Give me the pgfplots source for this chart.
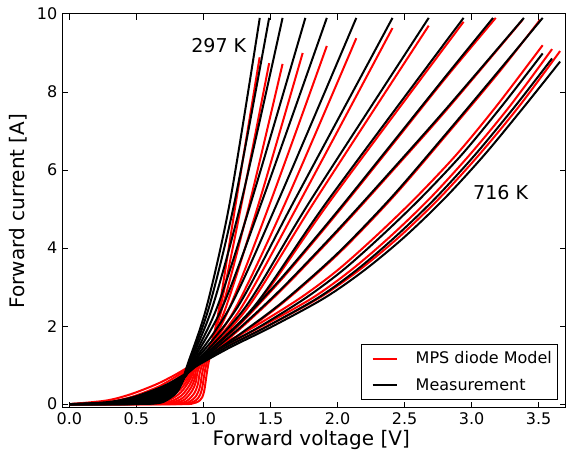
\documentclass[border=0pt]{standalone}
\usepackage{fontspec}
\setmainfont{DejaVu Sans}
\usepackage{pgfplots}
\pgfplotsset{compat=1.18}
\begin{document}
\begin{tikzpicture}
\path[use as bounding box] (0pt,0pt) rectangle (424.5pt,339pt);
\begin{axis}[
  at={(46.5pt,33pt)}, anchor=south west,
  scale only axis, width=377.6pt, height=295.5pt,
  xmin=-0.055, xmax=3.70, ymin=-0.1, ymax=10,
  xtick={0,0.5,...,3.5}, ytick={0,2,...,10},
  tick align=inside, major tick length=4.3pt,
  axis line style={line width=0.75pt},
  every tick/.style={black, line width=0.75pt},
  /pgf/number format/assume math mode=true,
  xticklabel style={/pgf/number format/.cd, fixed, fixed zerofill, precision=1},
  tick label style={font=\fontsize{12}{14}\selectfont},
  xlabel={Forward voltage [V]}, ylabel={Forward current [A]},
  label style={font=\fontsize{15}{18}\selectfont},
  xlabel style={at={(axis description cs:0.495,-0.0964)}, anchor=base},
  ylabel style={at={(axis description cs:-0.0735,0.5)}, anchor=base, rotate=0},
  legend style={at={(axis description cs:0.986,0.02)}, anchor=south east,
    font=\fontsize{12}{14}\selectfont, draw=black, line width=0.75pt,
    nodes={inner sep=0pt}, row sep=9.5pt, column sep=13.5pt,
    inner xsep=4.5pt, inner ysep=5.5pt},
  legend cell align=left,
  legend image code/.code={\path (-3.75pt,0pt); \draw[#1, line width=1.5pt] (0pt,0pt) -- (18pt,0pt);},
  blk/.style={black, line width=1.5pt, smooth, tension=0.5, forget plot},
  rd/.style={red, line width=1.5pt, smooth, tension=0.5, forget plot},
]
% ---------- model (red) ----------
\addplot[rd] coordinates {(0,0) (0.518,0) (0.725,0) (0.828,0.0002) (0.911,0.0078) (0.973,0.095) (1.004,0.314) (1.035,1) (1.119,2.5) (1.245,5.23) (1.419,8.89)};
\addplot[rd] coordinates {(0,0) (0.51,0) (0.714,0) (0.816,0.001) (0.898,0.019) (0.959,0.146) (0.989,0.388) (1.02,1) (1.128,2.5) (1.29,5.23) (1.49,8.74)};
\addplot[rd] coordinates {(0,0) (0.503,0) (0.704,0.0001) (0.804,0.0034) (0.884,0.038) (0.945,0.206) (0.975,0.46) (1.005,1) (1.143,2.5) (1.35,5.23) (1.59,8.72)};
\addplot[rd] coordinates {(0,0) (0.495,0) (0.693,0.0006) (0.792,0.0097) (0.871,0.070) (0.931,0.276) (0.960,0.531) (0.99,1) (1.169,2.5) (1.42,5.23) (1.74,9.0)};
\addplot[rd] coordinates {(0,0) (0.488,0) (0.683,0.0023) (0.78,0.022) (0.858,0.113) (0.917,0.348) (0.946,0.595) (0.975,1) (1.198,2.5) (1.505,5.23) (1.92,9.18)};
\addplot[rd] coordinates {(0,0) (0.29,0) (0.483,0.0001) (0.676,0.0069) (0.772,0.045) (0.849,0.168) (0.907,0.422) (0.936,0.654) (0.965,1) (1.245,2.5) (1.62,5.23) (2.14,9.38)};
\addplot[rd] coordinates {(0,0) (0.287,0) (0.478,0.0004) (0.669,0.017) (0.764,0.078) (0.84,0.232) (0.898,0.493) (0.926,0.706) (0.955,1) (1.287,2.5) (1.725,5.23) (2.41,9.64)};
\addplot[rd] coordinates {(0,0) (0.284,0) (0.473,0.0015) (0.662,0.035) (0.756,0.124) (0.832,0.303) (0.888,0.561) (0.917,0.752) (0.945,1) (1.336,2.5) (1.835,5.23) (2.68,9.7)};
\addplot[rd] coordinates {(0,0) (0.282,0.0001) (0.47,0.005) (0.658,0.065) (0.752,0.182) (0.827,0.376) (0.884,0.623) (0.912,0.792) (0.94,1) (1.387,2.5) (1.95,5.23) (2.94,9.8)};
\addplot[rd] coordinates {(0,0) (0.281,0.0005) (0.468,0.013) (0.655,0.107) (0.748,0.248) (0.823,0.449) (0.879,0.679) (0.907,0.826) (0.935,1) (1.11,1.52) (1.31,2.18) (1.61,3.305) (2.01,4.945) (2.41,6.655) (2.81,8.375) (3.18,9.9)};
\addplot[rd] coordinates {(0,0) (0.279,0.0021) (0.465,0.029) (0.651,0.161) (0.744,0.319) (0.818,0.52) (0.874,0.728) (0.902,0.856) (0.93,1) (1.11,1.454) (1.31,2.044) (1.61,3.019) (2.01,4.459) (2.41,5.979) (2.81,7.53) (3.38,9.85)};
\addplot[rd] coordinates {(0,0) (0.278,0.0065) (0.463,0.055) (0.648,0.224) (0.74,0.393) (0.814,0.585) (0.87,0.772) (0.897,0.88) (0.925,1) (1.11,1.384) (1.31,1.864) (1.61,2.644) (2.01,3.864) (2.41,5.292) (2.81,6.892) (3.21,8.532) (3.51,9.85)};
\addplot[rd] coordinates {(0,0) (0.276,0.024) (0.46,0.117) (0.644,0.331) (0.736,0.501) (0.81,0.673) (0.865,0.825) (0.892,0.91) (0.92,1) (1.10,1.456) (1.37,1.966) (1.72,2.715) (2.00,3.432) (2.28,4.286) (2.58,5.278) (2.89,6.408) (3.19,7.66) (3.53,9.2)};
\addplot[rd] coordinates {(0,0) (0.275,0.049) (0.458,0.177) (0.641,0.41) (0.732,0.572) (0.805,0.727) (0.86,0.857) (0.888,0.927) (0.915,1) (1.13,1.456) (1.42,1.966) (1.81,2.715) (2.10,3.432) (2.39,4.286) (2.69,5.278) (2.99,6.408) (3.29,7.66) (3.60,9.10)};
\addplot[rd] coordinates {(0,0) (0.273,0.09) (0.455,0.25) (0.637,0.49) (0.728,0.64) (0.801,0.774) (0.855,0.884) (0.883,0.941) (0.91,1) (1.16,1.456) (1.46,1.966) (1.86,2.715) (2.16,3.432) (2.46,4.286) (2.76,5.278) (3.06,6.408) (3.36,7.66) (3.66,9.05)};
% ---------- measurement (black) ----------
\addplot[blk] coordinates {(0,0) (0.264,0) (0.44,0.0002) (0.616,0.011) (0.704,0.060) (0.792,0.266) (0.836,0.524) (0.88,1) (1.024,2.5) (1.20,5.23) (1.42,9.9)};
\addplot[blk] coordinates {(0,0) (0.266,0) (0.443,0.0004) (0.620,0.018) (0.708,0.082) (0.797,0.309) (0.841,0.563) (0.885,1) (1.043,2.5) (1.235,5.23) (1.49,9.9)};
\addplot[blk] coordinates {(0,0) (0.267,0) (0.445,0.001) (0.623,0.028) (0.712,0.108) (0.801,0.351) (0.846,0.600) (0.89,1) (1.068,2.5) (1.285,5.23) (1.59,9.9)};
\addplot[blk] coordinates {(0,0) (0.269,0) (0.448,0.002) (0.627,0.042) (0.716,0.138) (0.806,0.394) (0.850,0.634) (0.895,1) (1.104,2.5) (1.36,5.23) (1.76,9.9)};
\addplot[blk] coordinates {(0,0) (0.27,0.0001) (0.45,0.0042) (0.63,0.060) (0.72,0.172) (0.81,0.437) (0.855,0.667) (0.90,1) (1.143,2.5) (1.44,5.23) (1.92,9.9)};
\addplot[blk] coordinates {(0,0) (0.272,0.0002) (0.453,0.0077) (0.634,0.081) (0.724,0.209) (0.815,0.479) (0.860,0.698) (0.905,1) (1.20,2.5) (1.56,5.23) (2.14,9.9)};
\addplot[blk] coordinates {(0,0) (0.273,0.0005) (0.455,0.013) (0.637,0.108) (0.728,0.249) (0.819,0.519) (0.865,0.726) (0.91,1) (1.257,2.5) (1.68,5.23) (2.41,9.9)};
\addplot[blk] coordinates {(0,0) (0.276,0.0012) (0.46,0.021) (0.644,0.137) (0.736,0.289) (0.828,0.558) (0.874,0.752) (0.92,1) (1.316,2.5) (1.80,5.23) (2.68,9.9)};
\addplot[blk] coordinates {(0,0) (0.278,0.0026) (0.463,0.033) (0.648,0.171) (0.74,0.332) (0.833,0.595) (0.879,0.776) (0.925,1) (1.377,2.5) (1.93,5.23) (2.94,9.9)};
\addplot[blk] coordinates {(0,0) (0.279,0.005) (0.465,0.047) (0.651,0.208) (0.744,0.375) (0.837,0.63) (0.884,0.798) (0.93,1) (1.1,1.52) (1.3,2.18) (1.6,3.305) (2.0,4.945) (2.4,6.655) (2.8,8.375) (3.16,9.9)};
\addplot[blk] coordinates {(0,0) (0.281,0.009) (0.468,0.066) (0.655,0.248) (0.748,0.418) (0.842,0.664) (0.888,0.818) (0.935,1) (1.1,1.454) (1.3,2.044) (1.6,3.019) (2.0,4.459) (2.4,5.979) (2.8,7.53) (3.39,9.9)};
\addplot[blk] coordinates {(0,0) (0.282,0.015) (0.47,0.09) (0.658,0.289) (0.752,0.46) (0.846,0.694) (0.893,0.837) (0.94,1) (1.1,1.384) (1.3,1.864) (1.6,2.644) (2.0,3.864) (2.4,5.292) (2.8,6.892) (3.2,8.532) (3.53,9.9)};
\addplot[blk] coordinates {(0,0) (0.285,0.024) (0.475,0.118) (0.665,0.332) (0.76,0.502) (0.855,0.723) (0.903,0.853) (0.95,1) (1.14,1.456) (1.41,1.966) (1.76,2.715) (2.04,3.432) (2.32,4.286) (2.62,5.278) (2.93,6.408) (3.23,7.66) (3.53,8.99)};
\addplot[blk] coordinates {(0,0) (0.287,0.036) (0.478,0.149) (0.669,0.375) (0.764,0.542) (0.860,0.749) (0.907,0.868) (0.955,1) (1.17,1.456) (1.46,1.966) (1.85,2.715) (2.14,3.432) (2.43,4.286) (2.73,5.278) (3.03,6.408) (3.33,7.66) (3.60,8.86)};
\addplot[blk] coordinates {(0,0) (0.288,0.052) (0.48,0.183) (0.672,0.417) (0.768,0.579) (0.864,0.773) (0.912,0.882) (0.96,1) (1.2,1.456) (1.5,1.966) (1.9,2.715) (2.2,3.432) (2.5,4.286) (2.8,5.278) (3.1,6.408) (3.4,7.66) (3.66,8.78)};
\addlegendimage{red}
\addlegendentry{MPS diode Model}
\addlegendimage{black}
\addlegendentry{Measurement}
\node[font=\fontsize{14.3}{17}\selectfont] at (axis cs:1.114,9.19) {297 K};
\node[font=\fontsize{14.3}{17}\selectfont] at (axis cs:3.217,5.41) {716 K};
\end{axis}
\end{tikzpicture}
\end{document}
